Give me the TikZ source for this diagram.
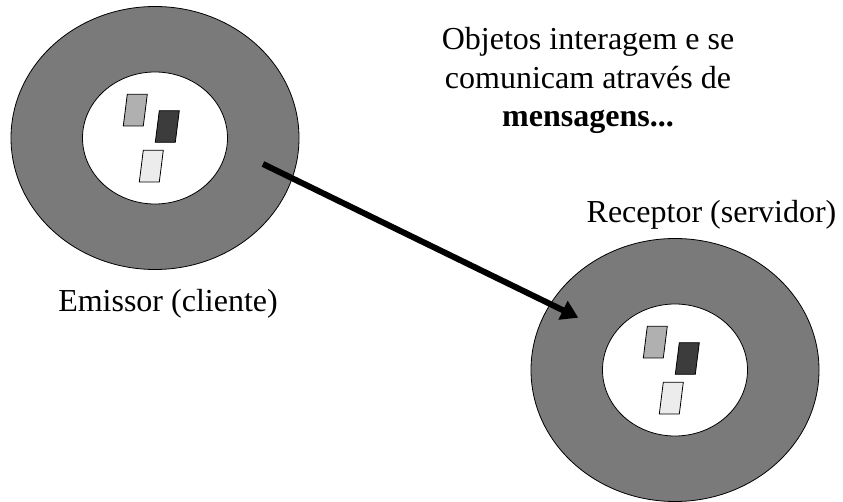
\documentclass[tikz,border=0pt]{standalone}
\usepackage{fontspec}
\setmainfont{Liberation Serif}
\usetikzlibrary{shapes.geometric,arrows.meta}

\definecolor{ringgray}{RGB}{122,122,122}
\definecolor{blocklight}{RGB}{176,176,176}
\definecolor{blockdark}{RGB}{60,60,60}
\definecolor{blockpale}{RGB}{236,236,236}

\tikzset{
  ring/.style={ellipse, draw=black, line width=0.8pt, fill=ringgray,
    minimum width=288pt, minimum height=263pt, inner sep=0pt},
  core/.style={ellipse, draw=black, line width=0.8pt, fill=white,
    minimum width=145pt, minimum height=132pt, inner sep=0pt},
  block/.style={draw=black, line width=0.8pt},
  label/.style={font=\fontsize{32}{38.5}\selectfont, inner sep=0pt},
  message/.style={line width=6pt, -{Triangle[length=17pt,width=20pt]}},
  pics/objeto/.style={code={
    \node[ring] (-outer) at (0,0) {};
    \node[core] (-inner) at (0,0) {};
    \draw[block, fill=blocklight] (-27.7,-43.7) -- (-7.7,-43.7) -- (-11.7,-12) -- (-31.7,-12) -- cycle;
    \draw[block, fill=blockdark]  (4.3,-27.3) -- (24.3,-27.3) -- (20.3,4.3) -- (0.3,4.3) -- cycle;
    \draw[block, fill=blockpale]  (-11.7,12.3) -- (8.3,12.3) -- (4.3,44) -- (-15.7,44) -- cycle;
  }}
}

\begin{document}
\begin{tikzpicture}[x=1pt, y=-1pt]
  \useasboundingbox (0,0) rectangle (843,502);

  % sender and receiver objects
  \pic (emi) at (155,138) {objeto};
  \pic (rec) at (675,370) {objeto};

  % captions
  \node[label, anchor=base] (emilabel) at (168,312) {Emissor (cliente)};
  \node[label, anchor=base] (reclabel) at (711.5,223) {Receptor (servidor)};
  % the base anchor of this three-line node sits on its last line
  \node[label, align=center, anchor=base] (texto) at (588,127)
    {Objetos interagem e se\\comunicam através de\\\textbf{mensagens...}};

  % message arrow
  \coordinate (from) at (263,164);
  \coordinate (to) at (578.3,317.7);
  \draw[message] (from) -- (to);
\end{tikzpicture}
\end{document}
